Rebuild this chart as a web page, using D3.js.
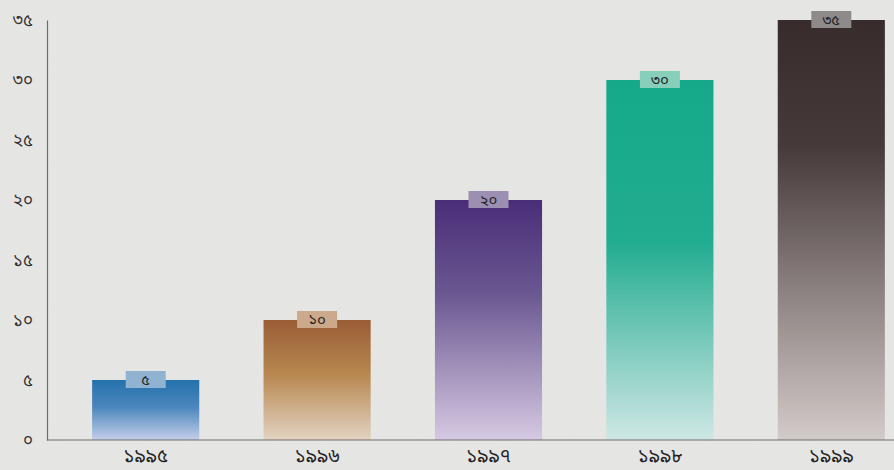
<!DOCTYPE html>
<html><head><meta charset="utf-8">
<script src="https://cdn.jsdelivr.net/npm/d3@7"></script>
<style>html,body{margin:0;padding:0;background:#e7e7e5;}svg{display:block;}</style>
</head><body><svg id="c" width="894" height="470"></svg>
<script>
const categories = ["১৯৯৫","১৯৯৬","১৯৯৭","১৯৯৮","১৯৯৯"];
const values = [5, 10, 20, 30, 35];
const valueLabels = ["৫","১০","২০","৩০","৩৫"];
const yTicks = [0,5,10,15,20,25,30,35];
const yTickLabels = ["০","৫","১০","১৫","২০","২৫","৩০","৩৫"];
const topColors = ["#2472ab","#9a5d36","#4a2d78","#15a98a","#372b2b"];
const midColors = ["#4a86bd","#b7874f","#6b5992","#22ac90","#463a3a"];
const midStops = [0.45, 0.45, 0.4, 0.45, 0.3];
const bottomColors = ["#c5cfe8","#e2d3c2","#d6c9e2","#cfe7e5","#d3cbc9"];
const boxColors = ["#90b3d1","#cba98a","#9c8fb2","#88cfbb","#8e8a8a"];

const W=894,H=470;
const svg=d3.select("#c");
const defs=svg.append("defs");
const f=defs.append("filter").attr("id","tex").attr("x",0).attr("y",0).attr("width","100%").attr("height","100%");
f.append("feTurbulence").attr("type","fractalNoise").attr("baseFrequency",0.9).attr("numOctaves",2).attr("seed",3).attr("result","n");
f.append("feColorMatrix").attr("type","matrix").attr("values","0 0 0 0 0.55  0 0 0 0 0.55  0 0 0 0 0.55  0 0 0 0.1 0");
svg.append("rect").attr("width",W).attr("height",H).attr("fill","#e7e7e5");
svg.append("rect").attr("width",W).attr("height",H).attr("filter","url(#tex)");

categories.forEach((c,i)=>{
  const g=defs.append("linearGradient").attr("id","g"+i).attr("x1",0).attr("y1",0).attr("x2",0).attr("y2",1);
  g.append("stop").attr("offset","0%").attr("stop-color",topColors[i]);
  g.append("stop").attr("offset",midStops[i]*100+"%").attr("stop-color",midColors[i]);
  g.append("stop").attr("offset","100%").attr("stop-color",bottomColors[i]);
});

const x=d3.scaleBand().domain(categories).range([60,917]).paddingInner(0.375).paddingOuter(0.1875);
const y=d3.scaleLinear().domain([0,35]).range([440,20]);

svg.selectAll("rect.bar").data(values).join("rect").attr("class","bar")
  .attr("x",(d,i)=>x(categories[i])).attr("y",d=>y(d))
  .attr("width",x.bandwidth()).attr("height",d=>y(0)-y(d))
  .attr("fill",(d,i)=>"url(#g"+i+")");

const ff="'Noto Sans Bengali','Lohit Bengali','Noto Sans',sans-serif";
const ya=d3.axisLeft(y).tickValues(yTicks).tickFormat((d,i)=>yTickLabels[i]).tickSize(0).tickPadding(14);
const yg=svg.append("g").attr("transform","translate(47,0)").call(ya);
yg.select(".domain").attr("stroke","#6d6d6d").attr("stroke-width",1.2);
yg.selectAll("text").attr("font-size",17).attr("fill","#333").attr("font-family",ff);

const xa=d3.axisBottom(x).tickSize(0).tickPadding(9);
const xg=svg.append("g").attr("transform","translate(0,440)").call(xa);
xg.select(".domain").remove();
svg.append("line").attr("x1",47).attr("x2",W).attr("y1",y(0)).attr("y2",y(0)).attr("stroke","#6d6d6d").attr("stroke-width",1.2);
xg.selectAll("text").attr("font-size",19).attr("fill","#222").attr("font-family",ff);

const lg=svg.selectAll("g.lab").data(values).join("g").attr("class","lab")
  .attr("transform",(d,i)=>`translate(${x(categories[i])+x.bandwidth()/2},${y(d)})`);
lg.append("rect").attr("x",-20).attr("y",-9).attr("width",40).attr("height",17)
  .attr("fill",(d,i)=>boxColors[i]);
lg.append("text").attr("text-anchor","middle").attr("dy","0.35em").attr("font-size",15).attr("fill","#222")
  .attr("font-family",ff).text((d,i)=>valueLabels[i]);
</script></body></html>
